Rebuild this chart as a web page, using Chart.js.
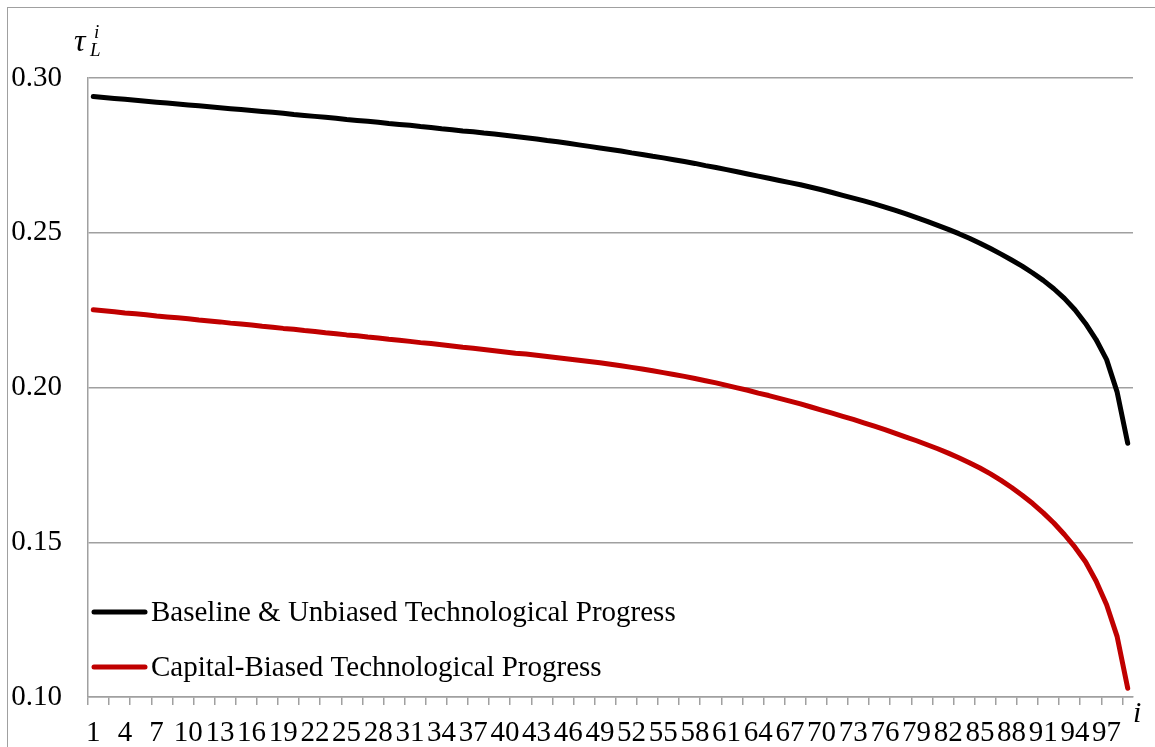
<!DOCTYPE html>
<html>
<head>
<meta charset="utf-8">
<script src="https://cdn.jsdelivr.net/npm/chart.js@4.4.1/dist/chart.umd.min.js"></script>
<style>
  html, body { margin: 0; padding: 0; background: #fff; overflow: hidden; }
  #frameTop { position: absolute; left: 7px; top: 7px; width: 1148px; height: 0; border-top: 1.5px solid #a0a0a0; }
  #frameLeft { position: absolute; left: 7px; top: 7px; width: 0; height: 740px; border-left: 1.5px solid #a0a0a0; }
  #wrap { position: absolute; left: 0; top: 0; width: 1155px; height: 747px; }
</style>
</head>
<body>
<div id="frameTop"></div>
<div id="frameLeft"></div>
<div id="wrap"><canvas id="chart"></canvas></div>
<script>
// household index i = 1..99
const households = Array.from({ length: 99 }, (_, i) => String(i + 1));

const yTicks = [0.10, 0.15, 0.20, 0.25, 0.30];

const baseline = [
  0.2940, 0.2937, 0.2934, 0.2931, 0.2928, 0.2925, 0.2922, 0.2919, 0.2916, 0.2913,
  0.2910, 0.2907, 0.2904, 0.2901, 0.2898, 0.2895, 0.2892, 0.2889, 0.2886, 0.2882,
  0.2879, 0.2876, 0.2873, 0.2870, 0.2866, 0.2863, 0.2860, 0.2857, 0.2853, 0.2850,
  0.2847, 0.2843, 0.2840, 0.2836, 0.2833, 0.2829, 0.2826, 0.2822, 0.2819, 0.2815,
  0.2811, 0.2807, 0.2803, 0.2798, 0.2794, 0.2789, 0.2784, 0.2779, 0.2774, 0.2769,
  0.2764, 0.2758, 0.2753, 0.2747, 0.2742, 0.2736, 0.2730, 0.2724, 0.2717, 0.2711,
  0.2704, 0.2697, 0.2690, 0.2683, 0.2676, 0.2669, 0.2662, 0.2655, 0.2647, 0.2639,
  0.2630, 0.2621, 0.2612, 0.2603, 0.2593, 0.2583, 0.2572, 0.2561, 0.2549, 0.2537,
  0.2524, 0.2511, 0.2497, 0.2482, 0.2466, 0.2449, 0.2431, 0.2412, 0.2392, 0.2370,
  0.2346, 0.2319, 0.2288, 0.2251, 0.2207, 0.2155, 0.2090, 0.1985, 0.1820
];

const capitalBiased = [
  0.2251, 0.2248, 0.2245, 0.2241, 0.2238, 0.2235, 0.2231, 0.2228, 0.2225, 0.2222,
  0.2218, 0.2215, 0.2212, 0.2208, 0.2205, 0.2202, 0.2198, 0.2195, 0.2191, 0.2188,
  0.2184, 0.2181, 0.2177, 0.2174, 0.2170, 0.2167, 0.2163, 0.2160, 0.2156, 0.2153,
  0.2149, 0.2145, 0.2142, 0.2138, 0.2134, 0.2130, 0.2127, 0.2123, 0.2119, 0.2115,
  0.2111, 0.2108, 0.2104, 0.2100, 0.2096, 0.2092, 0.2088, 0.2084, 0.2080, 0.2075,
  0.2070, 0.2065, 0.2060, 0.2054, 0.2048, 0.2042, 0.2036, 0.2029, 0.2022, 0.2015,
  0.2007, 0.1999, 0.1991, 0.1982, 0.1974, 0.1965, 0.1956, 0.1947, 0.1937, 0.1927,
  0.1917, 0.1907, 0.1897, 0.1886, 0.1875, 0.1864, 0.1852, 0.1840, 0.1828, 0.1815,
  0.1802, 0.1788, 0.1773, 0.1757, 0.1740, 0.1721, 0.1700, 0.1677, 0.1652, 0.1625,
  0.1595, 0.1562, 0.1525, 0.1484, 0.1437, 0.1375, 0.1298, 0.1195, 0.1028
];

const seriesNames = ['Baseline & Unbiased Technological Progress', 'Capital-Biased Technological Progress'];
const seriesColors = ['#000000', '#c00000'];

const GRID = '#a0a0a0';
const SERIF = "'Liberation Serif', 'Times New Roman', serif";

Chart.defaults.font.family = SERIF;
Chart.defaults.font.size = 29;
Chart.defaults.color = '#000';

// legend sits inside the plot, bottom-left, like the original
const innerLegend = {
  id: 'innerLegend',
  afterDraw(chart) {
    const ctx = chart.ctx;
    const rows = [612, 667];
    ctx.save();
    chart.data.datasets.forEach((ds, i) => {
      const y = rows[i];
      ctx.strokeStyle = ds.borderColor;
      ctx.lineWidth = 5;
      ctx.lineCap = 'round';
      ctx.beginPath();
      ctx.moveTo(94, y);
      ctx.lineTo(145, y);
      ctx.stroke();
      ctx.fillStyle = '#000';
      ctx.font = '29px ' + SERIF;
      ctx.textBaseline = 'middle';
      ctx.textAlign = 'left';
      ctx.fillText(ds.label, 151, y + 1);
    });
    ctx.restore();
  }
};

// axis symbols: tau_L^i on the y axis, i on the x axis
const axisSymbols = {
  id: 'axisSymbols',
  afterDraw(chart) {
    const ctx = chart.ctx;
    ctx.save();
    ctx.fillStyle = '#000';
    ctx.textBaseline = 'alphabetic';
    ctx.textAlign = 'left';
    ctx.font = 'italic 32px ' + SERIF;
    ctx.fillText('\u03C4', 74, 51);
    ctx.font = 'italic 19px ' + SERIF;
    ctx.fillText('i', 94, 38);
    ctx.fillText('L', 90, 56);
    ctx.font = 'italic 30px ' + SERIF;
    ctx.fillText('i', 1133, 722);
    ctx.restore();
  }
};

new Chart(document.getElementById('chart'), {
  type: 'line',
  data: {
    labels: households,
    datasets: [
      { label: seriesNames[0], data: baseline, borderColor: seriesColors[0], backgroundColor: seriesColors[0] },
      { label: seriesNames[1], data: capitalBiased, borderColor: seriesColors[1], backgroundColor: seriesColors[1] }
    ]
  },
  options: {
    responsive: true,
    maintainAspectRatio: false,
    animation: false,
    layout: { padding: { top: 78, right: 22, left: 0, bottom: 0 } },
    elements: {
      line: { borderWidth: 5, tension: 0, borderCapStyle: 'round', borderJoinStyle: 'round' },
      point: { radius: 0, hoverRadius: 0 }
    },
    plugins: {
      legend: { display: false },
      tooltip: { enabled: false }
    },
    scales: {
      x: {
        type: 'category',
        offset: true,
        afterFit: s => { s.height = 50; },
        grid: {
          offset: true,
          drawOnChartArea: false,
          drawTicks: true,
          tickLength: 8,
          lineWidth: 1.5,
          color: c => (c.index % 2 === 0 ? GRID : 'rgba(0,0,0,0)')
        },
        border: { display: true, color: GRID, width: 1.5 },
        ticks: {
          autoSkip: false,
          maxRotation: 0,
          minRotation: 0,
          padding: 11,
          callback: (v, i) => (i % 3 === 0 ? households[i] : '')
        }
      },
      y: {
        min: yTicks[0],
        max: yTicks[yTicks.length - 1],
        afterFit: s => { s.width = 88; },
        afterBuildTicks: s => { s.ticks = yTicks.map(v => ({ value: v })); },
        grid: { color: GRID, lineWidth: 1.5, drawTicks: false },
        border: { display: true, color: GRID, width: 1.5 },
        ticks: {
          padding: 26,
          callback: v => v.toFixed(2)
        }
      }
    }
  },
  plugins: [innerLegend, axisSymbols]
});
</script>
</body>
</html>
